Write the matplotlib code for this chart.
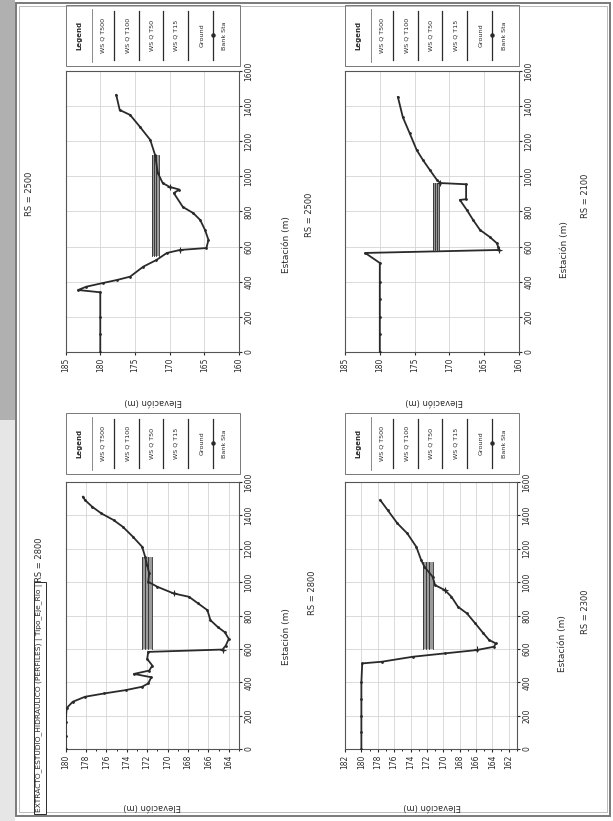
import matplotlib.pyplot as plt
import matplotlib.patches as mpatches

W, H = 613, 821

# --- datos de las secciones (estación m, elevación m) ---
sta_2500 = [0, 100, 200, 340, 353, 372, 393, 410, 429, 486, 524, 564, 581, 592, 638, 695, 752, 791,
            826, 905, 925, 940, 962, 1019, 1122, 1208, 1283, 1350, 1378, 1464]
elev_2500 = [180, 180, 180, 180, 183.2, 182, 179.6, 177.6, 175.7, 173.8, 171.9, 170.4, 168.5, 164.7,
             164.4, 164.9, 165.6, 166.6, 168.1, 169.4, 168.6, 170.0, 171.0, 171.7, 172.1, 172.8,
             174.3, 175.7, 177.2, 177.7]
ws_2500 = [172.5, 172.2, 171.9, 171.6]
ws_ext_2500 = [545, 1120]
bank_2500 = [581, 940]

sta_2100 = [0, 100, 200, 300, 400, 507, 564, 581, 600, 620, 655, 695, 752, 809, 866, 870, 955,
            962, 980, 1036, 1093, 1150, 1245, 1338, 1452]
elev_2100 = [180, 180, 180, 180, 180, 180, 182.1, 162.9, 163.0, 163.2, 164.2, 165.6, 166.6, 167.5,
             168.5, 167.6, 167.6, 171.3, 171.8, 172.8, 173.8, 174.7, 175.7, 176.7, 177.4]
ws_2100 = [172.3, 172.0, 171.8, 171.5]
ws_ext_2100 = [583, 960]
bank_2100 = [581, 962]

sta_2800 = [0, 80, 160, 245, 283, 313, 333, 353, 373, 393, 430, 450, 470, 500, 540, 582, 596, 620,
            660, 700, 732, 772, 832, 872, 912, 932, 972, 1002, 1052, 1100, 1152, 1212, 1272, 1332,
            1372, 1412, 1452, 1492, 1512]
elev_2800 = [180, 180, 180, 179.9, 179.3, 178.1, 176.2, 174.1, 172.5, 171.9, 171.6, 173.3, 171.8,
             171.5, 172.0, 171.9, 164.6, 164.3, 164.0, 164.4, 165.1, 165.8, 166.1, 167.0, 167.9,
             169.4, 171.0, 171.9, 171.8, 172.0, 172.2, 172.5, 173.4, 174.4, 175.3, 176.5, 177.4,
             178.1, 178.3]
ws_2800 = [172.5, 172.2, 171.9, 171.5]
ws_ext_2800 = [598, 1150]
bank_2800 = [596, 932]

sta_2300 = [0, 100, 200, 300, 400, 513, 523, 553, 573, 593, 613, 633, 653, 693, 753, 812, 852, 912,
            952, 982, 1032, 1092, 1132, 1212, 1292, 1352, 1432, 1492]
elev_2300 = [180, 180, 180, 180, 180, 179.9, 177.5, 173.7, 169.8, 165.9, 163.8, 163.6, 164.4, 165.1,
             166.1, 167.1, 168.2, 169.0, 169.8, 171.0, 171.3, 172.3, 172.7, 173.3, 174.4, 175.6,
             176.8, 177.7]
ws_2300 = [172.5, 172.1, 171.7, 171.3]
ws_ext_2300 = [600, 1120]
bank_2300 = [600, 952]

ticks_top = [185, 180, 175, 170, 165, 160]
ticks_bl = [180, 178, 176, 174, 172, 170, 168, 166, 164]
ticks_br = [182, 180, 178, 176, 174, 172, 170, 168, 166, 164, 162]
sta_ticks = [0, 200, 400, 600, 800, 1000, 1200, 1400, 1600]
legend_items = ["WS Q T500", "WS Q T100", "WS Q T50", "WS Q T15"]

ink = '#2a2a2a'
grid_c = '#d4d4d4'


def fx(x):
    return x / W


def fy(y):
    return 1 - y / H


fig = plt.figure(figsize=(W / 100, H / 100), dpi=100)
fig.patch.set_facecolor('white')

# marco del escaneo
fig.patches.append(mpatches.Rectangle((0, fy(420)), fx(15), 420 / H, transform=fig.transFigure,
                                      color='#b0b0b0', lw=0, zorder=0))
fig.patches.append(mpatches.Rectangle((0, 0), fx(15), fy(420), transform=fig.transFigure,
                                      color='#e6e6e6', lw=0, zorder=0))
fig.patches.append(mpatches.Rectangle((fx(16), fy(816)), fx(594), 813 / H, transform=fig.transFigure,
                                      fill=False, ec='#7a7a7a', lw=1.4, zorder=1))
fig.patches.append(mpatches.Rectangle((fx(19), fy(812)), fx(588), 806 / H, transform=fig.transFigure,
                                      fill=False, ec='#b0b0b0', lw=0.6, zorder=1))


def section(box, sta, elev, ws, ws_ext, banks, ticks):
    left, right, top, bottom = box
    ax = fig.add_axes([fx(left), fy(bottom), fx(right - left), (bottom - top) / H])
    ax.set_xlim(ticks[0], ticks[-1])
    ax.set_ylim(0, 1600)
    ax.set_xticks(ticks)
    if len(ticks) > 6:
        ax.set_xticks([t - 1 for t in ticks[1:]], minor=True)
    ax.set_yticks(sta_ticks)
    ax.yaxis.tick_right()
    ax.tick_params(axis='x', labelrotation=90, labelsize=5.5, length=2.5, pad=1.5, colors=ink)
    ax.tick_params(axis='y', labelrotation=90, labelsize=5.5, length=2.5, pad=1.5, colors=ink)
    ax.tick_params(which='minor', length=1.5)
    for lab in ax.get_yticklabels():
        lab.set_va('center')
    ax.grid(True, color=grid_c, lw=0.6)
    for s in ax.spines.values():
        s.set_color('#555555')
        s.set_linewidth(0.8)
    # bandas de agua
    ax.fill_betweenx(ws_ext, min(ws), max(ws), color='#9a9a9a', lw=0, zorder=2)
    for w in ws:
        ax.plot([w, w], ws_ext, color=ink, lw=0.6, zorder=3)
    ax.plot(elev, sta, color=ink, lw=1.3, marker='.', ms=2, zorder=4)
    for b in banks:
        e = elev[min(range(len(sta)), key=lambda i: abs(sta[i] - b))]
        ax.plot(e, b, marker='+', color=ink, ms=4, mew=0.8, zorder=5)
    return ax


def legend_box(left, top):
    width, height = 174, 61
    fig.patches.append(mpatches.Rectangle((fx(left), fy(top + height)), fx(width), height / H,
                                          transform=fig.transFigure, fill=False, ec='#777777',
                                          lw=0.7))
    cy = fy(top + height / 2)
    fig.text(fx(left + 13), cy, "Legend", rotation=90, ha='center', va='center', fontsize=5,
             fontweight='bold', color=ink)
    fig.add_artist(plt.Line2D([fx(left + 26), fx(left + 26)], [fy(top + 4), fy(top + height - 4)],
                              color='#777777', lw=0.6))
    for i, name in enumerate(legend_items):
        xc = left + 37 + i * 24.5
        fig.text(fx(xc), cy, name, rotation=90, ha='center', va='center', fontsize=4.6, color=ink)
        fig.add_artist(plt.Line2D([fx(xc + 11), fx(xc + 11)], [fy(top + 6), fy(top + height - 6)],
                                  color=ink, lw=0.9))
    xg = left + 136
    fig.text(fx(xg), cy, "Ground", rotation=90, ha='center', va='center', fontsize=4.6, color=ink)
    fig.add_artist(plt.Line2D([fx(xg + 11), fx(xg + 11)], [fy(top + 6), fy(top + height - 6)],
                              color=ink, lw=0.9))
    fig.add_artist(plt.Line2D([fx(xg + 11)], [cy], color=ink, marker='o', ms=2.2, lw=0))
    fig.text(fx(xg + 23), cy, "Bank Sta", rotation=90, ha='center', va='center', fontsize=4.6,
             color=ink)


section((65.6, 239, 71, 352), sta_2500, elev_2500, ws_2500, ws_ext_2500, bank_2500, ticks_top)
section((345, 519, 71, 352), sta_2100, elev_2100, ws_2100, ws_ext_2100, bank_2100, ticks_top)
section((65.6, 239, 482, 749), sta_2800, elev_2800, ws_2800, ws_ext_2800, bank_2800, ticks_bl)
section((345, 517, 482, 749), sta_2300, elev_2300, ws_2300, ws_ext_2300, bank_2300, ticks_br)

legend_box(66, 5)
legend_box(345, 5)
legend_box(66, 413)
legend_box(345, 413)

# textos (todo girado como en la hoja escaneada)
txt = dict(rotation=90, ha='center', va='center', color=ink)
fig.text(fx(29), fy(194), "RS = 2500", fontsize=6, **txt)
fig.text(fx(287), fy(245), "Estación (m)", fontsize=6.5, **txt)
fig.text(fx(309), fy(215), "RS = 2500", fontsize=6, **txt)
fig.text(fx(565), fy(250), "Estación (m)", fontsize=6.5, **txt)
fig.text(fx(586), fy(196), "RS = 2100", fontsize=6, **txt)
fig.text(fx(40), fy(560), "RS = 2800", fontsize=6, **txt)
fig.text(fx(40), fy(698), "EXTRACTO_ESTUDIO_HIDRAULICO (PERFILES) | Tipo_Eje_Rio |", fontsize=5.4,
         bbox=dict(boxstyle='square,pad=0.3', fc='white', ec=ink, lw=0.7), **txt)
fig.text(fx(287), fy(637), "Estación (m)", fontsize=6.5, **txt)
fig.text(fx(313), fy(593), "RS = 2800", fontsize=6, **txt)
fig.text(fx(563), fy(644), "Estación (m)", fontsize=6.5, **txt)
fig.text(fx(586), fy(612), "RS = 2300", fontsize=6, **txt)

for xc, yc in [(153, 402), (434, 402), (152, 806), (432, 806)]:
    fig.text(fx(xc), fy(yc), "Elevación (m)", rotation=180, ha='center', va='center',
             fontsize=6, color=ink)

fig.savefig('out.png', dpi=100)
